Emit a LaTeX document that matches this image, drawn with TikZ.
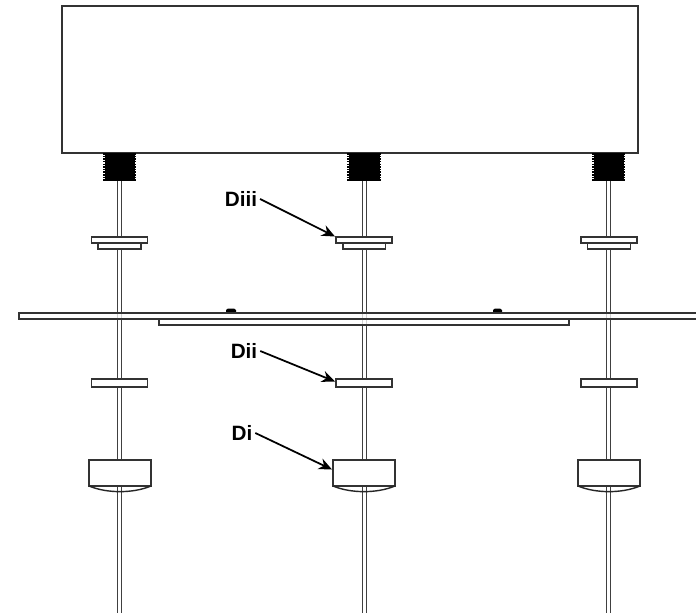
\documentclass[tikz,border=0pt]{standalone}
\usepackage{fontspec}
\setmainfont{Liberation Sans}
\usetikzlibrary{arrows.meta}
\tikzset{
	part/.style={draw=black!80, line width=0.6pt, fill=white},
	curve/.style={draw=black!85, line width=0.8pt},
	rodline/.style={draw=black!75, line width=0.85pt},
	threadblock/.style={fill=black},
	threadteeth/.style={draw=black, line width=1.4pt, dash pattern=on 0.9pt off 0.6pt},
	callout/.style={font=\bfseries\fontsize{11.8}{14}\selectfont, inner sep=1.5pt},
	pointer/.style={draw=black, line width=1pt, -{Stealth[length=7.5pt,width=6.5pt]}}
}

\begin{document}
\begin{tikzpicture}[x=0.02cm, y=-0.02cm]
		%%%%% START %%%%%
		\useasboundingbox (0, 0) rectangle (696, 613);
		\clip (0, 0) rectangle (696, 613);
		
		% rods
		\draw[rodline] (117.3, 181) -- (117.3, 613);
		\draw[rodline] (121.7, 181) -- (121.7, 613);
		\draw[rodline] (362.3, 181) -- (362.3, 613);
		\draw[rodline] (366.7, 181) -- (366.7, 613);
		\draw[rodline] (606.3, 181) -- (606.3, 613);
		\draw[rodline] (610.7, 181) -- (610.7, 613);
		
		% housing
		\draw[part] (62, 6) rectangle (638, 153);
		
		% threads
		\fill[threadblock] (104.5, 153) rectangle (134.5, 181);
		\draw[threadteeth] (104, 153) -- (104, 181);
		\draw[threadteeth] (135, 153) -- (135, 181);
		\fill[threadblock] (348.5, 153) rectangle (379.5, 181);
		\draw[threadteeth] (348, 153) -- (348, 181);
		\draw[threadteeth] (380, 153) -- (380, 181);
		\fill[threadblock] (593.5, 153) rectangle (623.5, 181);
		\draw[threadteeth] (593, 153) -- (593, 181);
		\draw[threadteeth] (624, 153) -- (624, 181);
		
		% upper collars
		\draw[part] (98, 243) rectangle (141, 249);
		\draw[part] (91.5, 237) rectangle (147.5, 243);
		\draw[part] (343, 243) rectangle (385.5, 249);
		\draw[part] (336, 237) rectangle (392, 243);
		\draw[part] (587.5, 243) rectangle (630.5, 249);
		\draw[part] (581, 237) rectangle (637, 243);
		
		% plates
		\fill[black] (226, 313) -- (226, 310) -- (228, 308.5) -- (234, 308.5) -- (236, 310) -- (236, 313) -- cycle;
		\fill[black] (493, 313) -- (493, 310) -- (495, 308.5) -- (500, 308.5) -- (502, 310) -- (502, 313) -- cycle;
		\draw[part] (159, 319) rectangle (569, 325);
		\draw[part] (19, 313) rectangle (700, 319);
		\draw[rodline, draw opacity=0.25] (117.3, 313) -- (117.3, 325);
		\draw[rodline, draw opacity=0.25] (121.7, 313) -- (121.7, 325);
		\draw[rodline, draw opacity=0.25] (362.3, 313) -- (362.3, 325);
		\draw[rodline, draw opacity=0.25] (366.7, 313) -- (366.7, 325);
		\draw[rodline, draw opacity=0.25] (606.3, 313) -- (606.3, 325);
		\draw[rodline, draw opacity=0.25] (610.7, 313) -- (610.7, 325);
		
		% middle collars
		\draw[part] (91.5, 379) rectangle (147.5, 387);
		\draw[part] (336, 379) rectangle (392, 387);
		\draw[part] (581, 379) rectangle (637, 387);
		
		% lower blocks
		\draw[part] (89, 460) rectangle (151, 486);
		\draw[curve] (89, 486) .. controls (107, 493.5) and (133, 493.5) .. (151, 486);
		\draw[part] (333, 460) rectangle (395, 486);
		\draw[curve] (333, 486) .. controls (351, 493.5) and (377, 493.5) .. (395, 486);
		\draw[part] (578, 460) rectangle (640, 486);
		\draw[curve] (578, 486) .. controls (596, 493.5) and (622, 493.5) .. (640, 486);
		
		% labels
		\node[callout] (diii) at (241, 199) {Diii};
		\node[callout] (dii) at (244, 351) {Dii};
		\node[callout] (di) at (242, 433) {Di};
		\coordinate (diiitip) at (335, 236.5);
		\coordinate (diitip) at (335, 381.5);
		\coordinate (ditip) at (332, 469.5);
		\draw[pointer] (diii.east) -- (diiitip);
		\draw[pointer] (dii.east) -- (diitip);
		\draw[pointer] (di.east) -- (ditip);
		
		%%%%% END %%%%%
	\end{tikzpicture}
\end{document}
